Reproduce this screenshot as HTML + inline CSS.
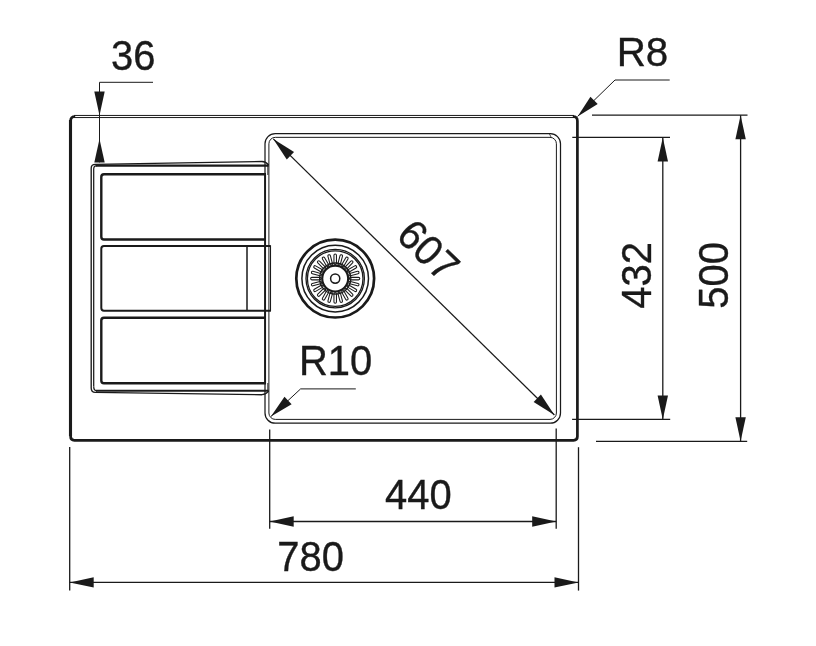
<!DOCTYPE html>
<html><head><meta charset="utf-8"><title>Sink drawing</title>
<style>
html,body{margin:0;padding:0;background:#fff;}
svg{display:block;will-change:transform;}
text{font-family:"Liberation Sans",Arial,Helvetica,sans-serif;fill:#1a1a1a;stroke:#1a1a1a;stroke-width:0.35px;}
</style></head><body>
<svg width="816" height="646" viewBox="0 0 816 646">
<rect width="816" height="646" fill="#ffffff"/>
<path d="M75.2,116.5 Q70.6,116.5 70.6,121 L70.6,436.5 Q70.6,440.3 74.4,440.3 L573.6,440.3 Q577.4,440.3 577.4,436.5 L577.4,121 Q577.4,116.5 572.8,116.5" fill="none" stroke="#1a1a1a" stroke-width="2.7" stroke-linejoin="round"/>
<line x1="74" y1="115.45" x2="574" y2="115.45" stroke="#1a1a1a" stroke-width="1.0" />
<line x1="74" y1="117.55" x2="574" y2="117.55" stroke="#1a1a1a" stroke-width="1.0" />
<line x1="70.5" y1="120" x2="70.5" y2="436" stroke="#1a1a1a" stroke-width="3.1" />
<rect x="265" y="133.6" width="295.50" height="289.60" rx="10.2" ry="10.2" fill="none" stroke="#1a1a1a" stroke-width="1.25"/>
<rect x="268.9" y="137.35" width="287.50" height="282.05" rx="6.4" ry="6.4" fill="none" stroke="#1a1a1a" stroke-width="1.0"/>
<line x1="265.1" y1="174" x2="265.1" y2="384" stroke="#1a1a1a" stroke-width="1.9" />
<line x1="549.5" y1="134" x2="551" y2="137" stroke="#1a1a1a" stroke-width="0.8" />
<path d="M91.2,388 L91.2,168.2 Q91.2,164.4 95.2,164.3 L262,161.5 Q266,161.6 268.6,165" fill="none" stroke="#1a1a1a" stroke-width="1.35" />
<path d="M93.7,386.5 L93.7,169 Q93.7,165.7 97,165.7" fill="none" stroke="#1a1a1a" stroke-width="1.25" />
<line x1="96" y1="165.6" x2="268.6" y2="165.6" stroke="#1a1a1a" stroke-width="2.1" />
<path d="M91.2,388 Q91.2,392.3 95.2,392.4 L262,394.7 Q266,394.6 268.6,391.2" fill="none" stroke="#1a1a1a" stroke-width="1.35" />
<path d="M93.7,386.5 Q93.7,390.8 97,390.8" fill="none" stroke="#1a1a1a" stroke-width="1.25" />
<line x1="96" y1="390.8" x2="268.6" y2="390.8" stroke="#1a1a1a" stroke-width="2.1" />
<line x1="267.8" y1="165" x2="267.8" y2="175" stroke="#1a1a1a" stroke-width="0.9" />
<line x1="267.8" y1="383" x2="267.8" y2="391" stroke="#1a1a1a" stroke-width="0.9" />
<path d="M266,174.3 L104,174.3 Q101.3,174.3 101.3,177 L101.3,236.8 Q101.3,239.5 104,239.5 L266,239.5" fill="none" stroke="#1a1a1a" stroke-width="2.4" />
<path d="M270.5,246 L104,246 Q101.3,246 101.3,248.7 L101.3,308.1 Q101.3,310.8 104,310.8 L270.5,310.8" fill="none" stroke="#1a1a1a" stroke-width="2.0" />
<line x1="247" y1="246" x2="247" y2="310.8" stroke="#1a1a1a" stroke-width="1.5" />
<line x1="270.5" y1="245.3" x2="270.5" y2="311.5" stroke="#1a1a1a" stroke-width="1.1" />
<path d="M266,317.7 L104,317.7 Q101.3,317.7 101.3,320.4 L101.3,380.5 Q101.3,383.2 104,383.2 L266,383.2" fill="none" stroke="#1a1a1a" stroke-width="2.4" />
<circle cx="335.2" cy="278.6" r="38.9" fill="none" stroke="#1a1a1a" stroke-width="2.7"/>
<circle cx="335.2" cy="278.6" r="33.3" fill="none" stroke="#1a1a1a" stroke-width="1.5"/>
<circle cx="335.2" cy="278.6" r="29.2" fill="none" stroke="#1a1a1a" stroke-width="1.3"/>
<circle cx="335.2" cy="278.6" r="27.8" fill="none" stroke="#1a1a1a" stroke-width="1.3"/>
<circle cx="335.2" cy="278.6" r="15.6" fill="none" stroke="#1a1a1a" stroke-width="1.3"/>
<circle cx="335.2" cy="278.6" r="13.0" fill="none" stroke="#1a1a1a" stroke-width="2.2"/>
<circle cx="335.2" cy="278.6" r="4.6" fill="none" stroke="#1a1a1a" stroke-width="1.5"/>
<rect x="349.40" y="277.35" width="10.4" height="2.5" rx="1.25" fill="none" stroke="#1a1a1a" stroke-width="1.05" transform="rotate(0 335.2 278.6)"/>
<rect x="349.40" y="277.35" width="10.4" height="2.5" rx="1.25" fill="none" stroke="#1a1a1a" stroke-width="1.05" transform="rotate(15 335.2 278.6)"/>
<rect x="349.40" y="277.35" width="10.4" height="2.5" rx="1.25" fill="none" stroke="#1a1a1a" stroke-width="1.05" transform="rotate(30 335.2 278.6)"/>
<rect x="349.40" y="277.35" width="10.4" height="2.5" rx="1.25" fill="none" stroke="#1a1a1a" stroke-width="1.05" transform="rotate(45 335.2 278.6)"/>
<rect x="349.40" y="277.35" width="10.4" height="2.5" rx="1.25" fill="none" stroke="#1a1a1a" stroke-width="1.05" transform="rotate(60 335.2 278.6)"/>
<rect x="349.40" y="277.35" width="10.4" height="2.5" rx="1.25" fill="none" stroke="#1a1a1a" stroke-width="1.05" transform="rotate(75 335.2 278.6)"/>
<rect x="349.40" y="277.35" width="10.4" height="2.5" rx="1.25" fill="none" stroke="#1a1a1a" stroke-width="1.05" transform="rotate(90 335.2 278.6)"/>
<rect x="349.40" y="277.35" width="10.4" height="2.5" rx="1.25" fill="none" stroke="#1a1a1a" stroke-width="1.05" transform="rotate(105 335.2 278.6)"/>
<rect x="349.40" y="277.35" width="10.4" height="2.5" rx="1.25" fill="none" stroke="#1a1a1a" stroke-width="1.05" transform="rotate(120 335.2 278.6)"/>
<rect x="349.40" y="277.35" width="10.4" height="2.5" rx="1.25" fill="none" stroke="#1a1a1a" stroke-width="1.05" transform="rotate(135 335.2 278.6)"/>
<rect x="349.40" y="277.35" width="10.4" height="2.5" rx="1.25" fill="none" stroke="#1a1a1a" stroke-width="1.05" transform="rotate(150 335.2 278.6)"/>
<rect x="349.40" y="277.35" width="10.4" height="2.5" rx="1.25" fill="none" stroke="#1a1a1a" stroke-width="1.05" transform="rotate(165 335.2 278.6)"/>
<rect x="349.40" y="277.35" width="10.4" height="2.5" rx="1.25" fill="none" stroke="#1a1a1a" stroke-width="1.05" transform="rotate(180 335.2 278.6)"/>
<rect x="349.40" y="277.35" width="10.4" height="2.5" rx="1.25" fill="none" stroke="#1a1a1a" stroke-width="1.05" transform="rotate(195 335.2 278.6)"/>
<rect x="349.40" y="277.35" width="10.4" height="2.5" rx="1.25" fill="none" stroke="#1a1a1a" stroke-width="1.05" transform="rotate(210 335.2 278.6)"/>
<rect x="349.40" y="277.35" width="10.4" height="2.5" rx="1.25" fill="none" stroke="#1a1a1a" stroke-width="1.05" transform="rotate(225 335.2 278.6)"/>
<rect x="349.40" y="277.35" width="10.4" height="2.5" rx="1.25" fill="none" stroke="#1a1a1a" stroke-width="1.05" transform="rotate(240 335.2 278.6)"/>
<rect x="349.40" y="277.35" width="10.4" height="2.5" rx="1.25" fill="none" stroke="#1a1a1a" stroke-width="1.05" transform="rotate(255 335.2 278.6)"/>
<rect x="349.40" y="277.35" width="10.4" height="2.5" rx="1.25" fill="none" stroke="#1a1a1a" stroke-width="1.05" transform="rotate(270 335.2 278.6)"/>
<rect x="349.40" y="277.35" width="10.4" height="2.5" rx="1.25" fill="none" stroke="#1a1a1a" stroke-width="1.05" transform="rotate(285 335.2 278.6)"/>
<rect x="349.40" y="277.35" width="10.4" height="2.5" rx="1.25" fill="none" stroke="#1a1a1a" stroke-width="1.05" transform="rotate(300 335.2 278.6)"/>
<rect x="349.40" y="277.35" width="10.4" height="2.5" rx="1.25" fill="none" stroke="#1a1a1a" stroke-width="1.05" transform="rotate(315 335.2 278.6)"/>
<rect x="349.40" y="277.35" width="10.4" height="2.5" rx="1.25" fill="none" stroke="#1a1a1a" stroke-width="1.05" transform="rotate(330 335.2 278.6)"/>
<rect x="349.40" y="277.35" width="10.4" height="2.5" rx="1.25" fill="none" stroke="#1a1a1a" stroke-width="1.05" transform="rotate(345 335.2 278.6)"/>
<line x1="273.3" y1="138.9" x2="554.4" y2="415.0" stroke="#1a1a1a" stroke-width="1.3" />
<polygon points="273.30,138.90 294.07,152.01 286.78,159.43" fill="#1a1a1a"/>
<polygon points="554.40,415.00 533.63,401.89 540.92,394.47" fill="#1a1a1a"/>
<text x="0" y="14.7" font-size="41" text-anchor="middle" transform="translate(429.0 249.9) rotate(44.49) scale(0.97 1.02)">607</text>
<path d="M153,82.3 L99.5,82.3 L99.5,162.4" fill="none" stroke="#1a1a1a" stroke-width="1.0" />
<polygon points="99.50,115.40 94.30,91.60 104.70,91.60" fill="#1a1a1a"/>
<polygon points="99.50,138.90 104.70,162.40 94.30,162.40" fill="#1a1a1a"/>
<text x="0" y="0" font-size="41" text-anchor="start" transform="translate(111.0 69.9) rotate(0) scale(0.975 1.04)">36</text>
<path d="M669.7,80.0 L615,80.0 L577.6,116.4" fill="none" stroke="#1a1a1a" stroke-width="1.0" />
<polygon points="577.60,116.40 590.46,96.63 597.71,104.08" fill="#1a1a1a"/>
<text x="0" y="0" font-size="41" text-anchor="start" transform="translate(616.7 66.0) rotate(0) scale(0.985 1.005)">R8</text>
<path d="M355.8,388.9 L300.6,388.9 L270.9,416.5" fill="none" stroke="#1a1a1a" stroke-width="1.0" />
<polygon points="270.90,416.50 284.50,396.64 291.61,404.24" fill="#1a1a1a"/>
<text x="0" y="0" font-size="41" text-anchor="start" transform="translate(299.0 375) rotate(0) scale(0.975 1.04)">R10</text>
<line x1="572.3" y1="137.4" x2="670" y2="137.4" stroke="#1a1a1a" stroke-width="1.3" />
<line x1="572.1" y1="419.4" x2="670.2" y2="419.4" stroke="#1a1a1a" stroke-width="1.3" />
<line x1="662.8" y1="137.4" x2="662.8" y2="419.4" stroke="#1a1a1a" stroke-width="1.3" />
<polygon points="662.80,137.40 668.00,161.40 657.60,161.40" fill="#1a1a1a"/>
<polygon points="662.80,419.40 657.60,395.40 668.00,395.40" fill="#1a1a1a"/>
<text x="0" y="0" font-size="41" text-anchor="middle" transform="translate(650.8 275.3) rotate(-90) scale(0.975 1.04)">432</text>
<line x1="592" y1="115.2" x2="747.5" y2="115.2" stroke="#1a1a1a" stroke-width="1.3" />
<line x1="596" y1="441.3" x2="747.2" y2="441.3" stroke="#1a1a1a" stroke-width="1.3" />
<line x1="740.6" y1="115.2" x2="740.6" y2="441.3" stroke="#1a1a1a" stroke-width="1.3" />
<polygon points="740.60,115.20 745.80,139.20 735.40,139.20" fill="#1a1a1a"/>
<polygon points="740.60,441.30 735.40,417.30 745.80,417.30" fill="#1a1a1a"/>
<text x="0" y="0" font-size="41" text-anchor="middle" transform="translate(727.8 275.3) rotate(-90) scale(0.975 1.04)">500</text>
<line x1="269.7" y1="429.4" x2="269.7" y2="528.7" stroke="#1a1a1a" stroke-width="1.3" />
<line x1="556.2" y1="428.5" x2="556.2" y2="528.7" stroke="#1a1a1a" stroke-width="1.3" />
<line x1="269.7" y1="521.5" x2="556.2" y2="521.5" stroke="#1a1a1a" stroke-width="1.3" />
<polygon points="269.70,521.50 293.70,516.30 293.70,526.70" fill="#1a1a1a"/>
<polygon points="556.20,521.50 532.20,526.70 532.20,516.30" fill="#1a1a1a"/>
<text x="0" y="0" font-size="41" text-anchor="middle" transform="translate(418.3 508.7) rotate(0) scale(0.975 1.04)">440</text>
<line x1="69.7" y1="447" x2="69.7" y2="590.6" stroke="#1a1a1a" stroke-width="1.3" />
<line x1="578.5" y1="447.2" x2="578.5" y2="590.6" stroke="#1a1a1a" stroke-width="1.3" />
<line x1="69.7" y1="582.4" x2="578.5" y2="582.4" stroke="#1a1a1a" stroke-width="1.3" />
<polygon points="69.70,582.40 93.70,577.20 93.70,587.60" fill="#1a1a1a"/>
<polygon points="578.50,582.40 554.50,587.60 554.50,577.20" fill="#1a1a1a"/>
<text x="0" y="0" font-size="41" text-anchor="middle" transform="translate(310.7 570.6) rotate(0) scale(0.975 1.04)">780</text>
</svg>
</body></html>
